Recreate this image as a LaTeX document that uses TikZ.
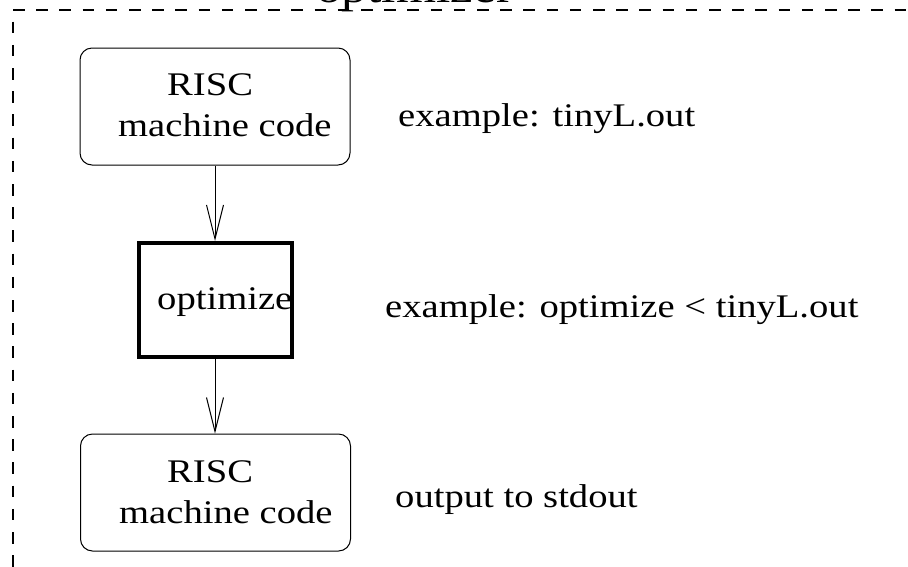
\documentclass[tikz,border=0pt]{standalone}
\usepackage{fontspec}
\setmainfont{Liberation Serif}[FakeStretch=1.17]
\usetikzlibrary{arrows.meta}

\tikzset{
  box/.style={draw=black, line width=1pt, rounded corners=12pt, inner sep=0pt,
              minimum width=270pt, minimum height=117pt},
  opbox/.style={draw=black, line width=4pt, inner sep=0pt,
                minimum width=153pt, minimum height=114pt},
  txt/.style={anchor=base west, inner sep=0pt, font=\fontsize{33}{40}\selectfont},
  ttl/.style={anchor=base west, inner sep=0pt, font=\fontsize{44}{50}\selectfont},
  flow/.style={draw=black, line width=1pt,
               -{Straight Barb[length=34pt, width=17pt, line width=1pt]}},
  frame/.style={draw=black, line width=2pt, dash pattern=on 11.6pt off 11.6pt}
}

\begin{document}
\begin{tikzpicture}[x=1pt, y=-1pt]
  \useasboundingbox (0,0) rectangle (908,566);

  % dashed enclosure, open to the right and bottom
  \coordinate (corner) at (13,10);
  \coordinate (topend) at (960,10);
  \coordinate (leftend) at (13,620);
  \draw[frame] (corner) -- (topend);
  \draw[frame, dash phase=11.6pt] (corner) -- (leftend);
  \node[ttl] (title) at (316,2) {optimizer};

  % boxes
  \node[box]   (src) at (215,106.5) {};
  \node[opbox] (opt) at (215.5,300) {};
  \node[box]   (dst) at (215.5,492.5) {};

  % box contents
  \node[txt] (srcA) at (167,95)  {RISC};
  \node[txt] (srcB) at (118,136) {machine code};
  \node[txt] (optA) at (157,309) {optimize};
  \node[txt] (dstA) at (167,482) {RISC};
  \node[txt] (dstB) at (119,523) {machine code};

  % side notes
  \node[txt] (note1) at (398,126) {example: tinyL.out};
  \node[txt] (note2) at (385,317) {example: optimize < tinyL.out};
  \node[txt] (note3) at (395,507) {output to stdout};

  % connectors
  \draw[flow] (src.south) -- (src.south |- opt.north);
  \draw[flow] (opt.south -| src.south) -- (src.south |- dst.north);
\end{tikzpicture}
\end{document}
